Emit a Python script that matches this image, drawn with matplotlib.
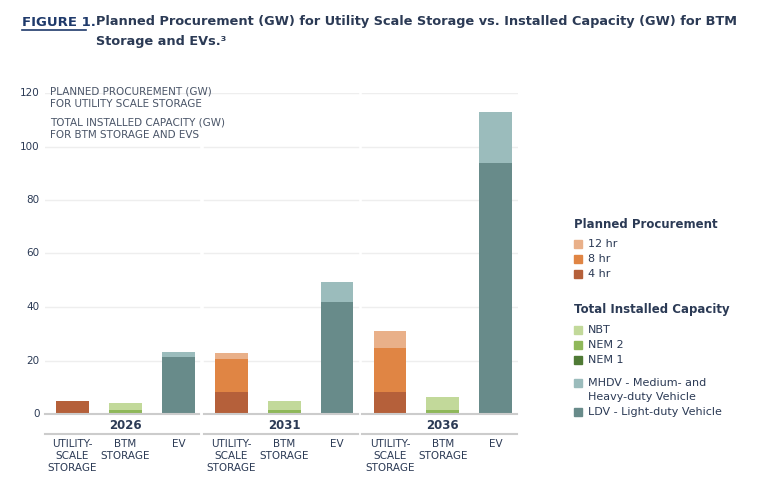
import matplotlib
matplotlib.use("Agg")
import matplotlib.pyplot as plt
from matplotlib.patches import Rectangle
import numpy as np

years = ["2026", "2031", "2036"]
categories = ["UTILITY-\nSCALE\nSTORAGE", "BTM\nSTORAGE", "EV"]
us_4hr = [5.0, 8.4, 8.4]
us_8hr = [0.0, 12.2, 16.2]
us_12hr = [0.0, 2.1, 6.5]
btm_nem1 = [0.0, 0.0, 0.0]
btm_nem2 = [1.5, 1.5, 1.5]
btm_nbt = [2.7, 3.5, 5.0]
ev_ldv = [21.2, 42.0, 93.8]
ev_mhdv = [1.8, 7.5, 19.0]
yticks = [0, 20, 40, 60, 80, 100, 120]

C4, C8, C12 = "#b5603a", "#e08544", "#e9b089"
CNBT, CNEM2, CNEM1 = "#c2d99a", "#8fb85a", "#4f7a35"
CMH, CLDV = "#9bbcbc", "#688b8a"
NAVY = "#2b3a55"

fig = plt.figure(figsize=(7.68, 4.98), dpi=100)
W, H = 768, 498
ax = fig.add_axes([45/W, 1-414/H, (518-45)/W, (414-93)/H])
ax.set_xlim(-0.52, 8.42)
ax.set_ylim(0, 120)
for s in ax.spines.values():
    s.set_visible(False)
ax.set_xticks([])
ax.set_yticks([])

bw = 0.62
for g in range(3):
    x0 = g * 3
    for yv in yticks[1:]:
        ax.plot([x0 - 0.52, x0 + 2.4], [yv, yv], color="#eeeeee", lw=1, zorder=0)
    ax.plot([x0 - 0.52, x0 + 2.4], [0, 0], color="#cccccc", lw=1.5, zorder=3, clip_on=False)
    b = 0
    for v, c in [(us_4hr[g], C4), (us_8hr[g], C8), (us_12hr[g], C12)]:
        ax.bar(x0, v, bw, bottom=b, color=c, zorder=2); b += v
    b = 0
    for v, c in [(btm_nem1[g], CNEM1), (btm_nem2[g], CNEM2), (btm_nbt[g], CNBT)]:
        ax.bar(x0 + 1, v, bw, bottom=b, color=c, zorder=2); b += v
    b = 0
    for v, c in [(ev_ldv[g], CLDV), (ev_mhdv[g], CMH)]:
        ax.bar(x0 + 2, v, bw, bottom=b, color=c, zorder=2); b += v
    ax.text(x0 + 1, -4.2, years[g], ha="center", va="center", fontsize=8.5,
            fontweight="bold", color=NAVY)
    ax.plot([x0 - 0.52, x0 + 2.4], [-7.3, -7.3], color="#cccccc", lw=1.5, clip_on=False)
    for i, cat in enumerate(categories):
        ax.text(x0 + i, -9.5, cat, ha="center", va="top", fontsize=7.5, color=NAVY,
                linespacing=1.25)

for yv in yticks:
    ax.text(-0.62, yv, str(yv), ha="right", va="center", fontsize=7.5, color=NAVY)

ax.text(-0.42, 122.5, "PLANNED PROCUREMENT (GW)\nFOR UTILITY SCALE STORAGE", ha="left",
        va="top", fontsize=7.5, color="#4a5568", linespacing=1.3)
ax.text(-0.42, 110.8, "TOTAL INSTALLED CAPACITY (GW)\nFOR BTM STORAGE AND EVS", ha="left",
        va="top", fontsize=7.5, color="#4a5568", linespacing=1.3)

fig.text(22/W, 1-22/H, "FIGURE 1.", fontsize=9.5, fontweight="bold", color="#1f3a6b", va="center")
fig.add_artist(plt.Line2D([22/W, 86/W], [1-30/H, 1-30/H], color="#1f3a6b", lw=1.2))
fig.text(96/W, 1-22/H, "Planned Procurement (GW) for Utility Scale Storage vs. Installed Capacity (GW) for BTM",
         fontsize=9.3, color=NAVY, va="center", fontweight="semibold")
fig.text(96/W, 1-42/H, "Storage and EVs.³", fontsize=9.3, color=NAVY, va="center", fontweight="semibold")

lx = 574
fig.text(lx/W, 1-224/H, "Planned Procurement", fontsize=8.5, fontweight="bold", color=NAVY, va="center")
items1 = [("12 hr", C12, 244), ("8 hr", C8, 259), ("4 hr", C4, 274)]
fig.text(lx/W, 1-310/H, "Total Installed Capacity", fontsize=8.5, fontweight="bold", color=NAVY, va="center")
items2 = [("NBT", CNBT, 330), ("NEM 2", CNEM2, 345), ("NEM 1", CNEM1, 360),
          ("MHDV - Medium- and", CMH, 383), ("LDV - Light-duty Vehicle", CLDV, 412)]
for lab, c, y in items1 + items2:
    fig.add_artist(Rectangle((lx/W, 1-(y+4)/H), 8/W, 8/H, color=c, transform=fig.transFigure))
    fig.text((lx+14)/W, 1-y/H, lab, fontsize=8, color=NAVY, va="center")
fig.text((lx+14)/W, 1-397/H, "Heavy-duty Vehicle", fontsize=8, color=NAVY, va="center")

fig.savefig("out.png", dpi=100)
